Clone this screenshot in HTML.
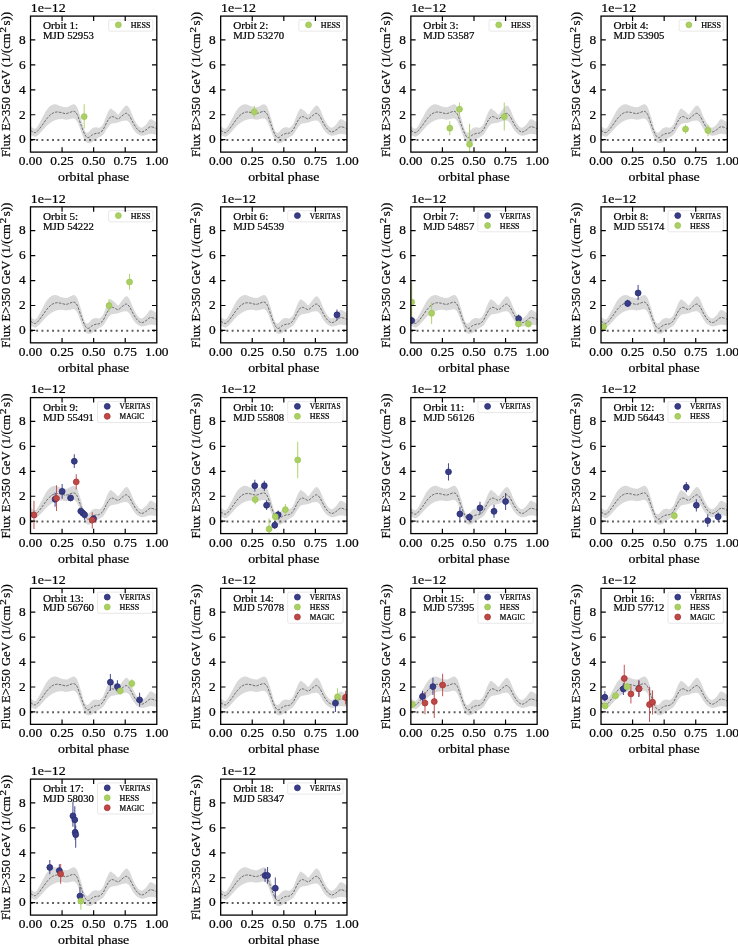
<!DOCTYPE html>
<html><head><meta charset="utf-8"><title>Orbit flux panels</title>
<style>
html,body{margin:0;padding:0;background:#fff;}
svg{display:block;}
text{font-family:"Liberation Serif",serif;fill:#000;stroke:#000;stroke-width:0.22px;}
</style></head><body>
<svg width="738" height="946" viewBox="0 0 738 946">
<rect width="738" height="946" fill="#fff"/>
<g opacity="0.999">
<defs>
<g id="bg">
<path d="M0.00 110.18C0.66 110.58 2.83 112.47 3.97 112.55C5.11 112.63 5.55 112.40 6.82 110.66C8.08 108.92 9.98 104.97 11.56 102.12C13.14 99.27 14.72 95.77 16.30 93.58C17.88 91.40 19.46 89.90 21.04 89.03C22.62 88.16 24.20 88.16 25.79 88.37C27.37 88.57 28.95 89.79 30.53 90.26C32.11 90.74 33.85 91.29 35.27 91.21C36.69 91.13 37.72 90.31 39.06 89.79C40.41 89.27 42.07 87.85 43.33 88.08C44.60 88.32 45.47 88.87 46.65 91.21C47.84 93.55 49.18 98.25 50.45 102.12C51.71 105.99 53.05 112.08 54.24 114.45C55.43 116.82 56.30 116.74 57.56 116.35C58.83 115.95 60.48 112.95 61.83 112.08C63.17 111.21 64.46 111.21 65.62 111.13C66.79 111.05 67.65 112.16 68.82 111.61C69.98 111.05 71.34 110.02 72.61 107.81C73.87 105.60 75.22 100.86 76.40 98.33C77.59 95.80 78.77 93.39 79.72 92.64C80.67 91.88 81.22 93.22 82.09 93.77C82.96 94.33 83.99 95.20 84.94 95.95C85.89 96.71 86.68 98.72 87.79 98.33C88.89 97.93 90.24 95.09 91.58 93.58C92.92 92.08 94.58 89.47 95.85 89.32C97.11 89.16 97.98 90.58 99.17 92.64C100.35 94.69 101.70 99.04 102.96 101.65C104.23 104.25 105.41 106.63 106.76 108.29C108.10 109.95 109.60 111.53 111.02 111.61C112.45 111.68 113.79 110.18 115.29 108.76C116.79 107.34 118.20 103.46 120.03 103.07C121.87 102.67 125.26 105.84 126.30 106.39L126.30 118.72C125.26 118.56 121.87 117.72 120.03 117.77C118.20 117.82 116.79 118.69 115.29 119.00C113.79 119.32 112.45 119.87 111.02 119.67C109.60 119.46 108.10 118.80 106.76 117.77C105.41 116.74 104.23 115.32 102.96 113.50C101.70 111.68 100.35 108.36 99.17 106.86C97.98 105.36 97.11 104.81 95.85 104.49C94.58 104.18 92.92 104.65 91.58 104.97C90.24 105.28 88.89 106.07 87.79 106.39C86.68 106.70 85.89 106.70 84.94 106.86C83.99 107.02 82.96 107.10 82.09 107.34C81.22 107.57 80.67 107.42 79.72 108.29C78.77 109.15 77.59 110.81 76.40 112.55C75.22 114.29 73.87 117.30 72.61 118.72C71.34 120.14 69.98 120.38 68.82 121.09C67.65 121.80 66.79 122.20 65.62 122.99C64.46 123.78 63.17 125.17 61.83 125.83C60.48 126.50 58.83 127.29 57.56 126.97C56.30 126.65 55.43 125.94 54.24 123.94C53.05 121.93 51.71 118.01 50.45 114.93C49.18 111.84 47.84 107.53 46.65 105.44C45.47 103.35 44.60 102.80 43.33 102.40C42.07 102.01 40.41 102.88 39.06 103.07C37.72 103.26 36.69 103.57 35.27 103.54C33.85 103.51 32.11 102.88 30.53 102.88C28.95 102.88 27.37 103.04 25.79 103.54C24.20 104.05 22.62 104.89 21.04 105.91C19.46 106.94 17.88 108.21 16.30 109.71C14.72 111.21 13.14 113.27 11.56 114.93C9.98 116.58 8.08 118.72 6.82 119.67C5.55 120.62 5.11 120.77 3.97 120.62C2.83 120.46 0.66 119.04 0.00 118.72Z" fill="#d9d9d9"/>
<path d="M0.00 114.26C0.66 114.64 2.83 116.38 3.97 116.54C5.11 116.70 5.55 116.43 6.82 115.21C8.08 113.99 9.98 111.34 11.56 109.23C13.14 107.13 14.72 104.49 16.30 102.59C17.88 100.70 19.46 98.96 21.04 97.85C22.62 96.75 24.20 96.19 25.79 95.95C27.37 95.72 28.95 96.16 30.53 96.43C32.11 96.70 33.85 97.57 35.27 97.57C36.69 97.57 37.72 96.81 39.06 96.43C40.41 96.05 42.07 94.97 43.33 95.29C44.60 95.61 45.47 96.08 46.65 98.33C47.84 100.57 49.18 105.44 50.45 108.76C51.71 112.08 53.05 116.11 54.24 118.24C55.43 120.38 56.30 121.49 57.56 121.56C58.83 121.64 60.48 119.43 61.83 118.72C63.17 118.01 64.46 117.61 65.62 117.30C66.79 116.98 67.65 117.45 68.82 116.82C69.98 116.19 71.34 115.32 72.61 113.50C73.87 111.68 75.22 107.97 76.40 105.91C77.59 103.86 78.77 102.07 79.72 101.17C80.67 100.27 81.22 100.43 82.09 100.51C82.96 100.59 83.99 101.27 84.94 101.65C85.89 102.03 86.68 103.10 87.79 102.78C88.89 102.47 90.24 100.68 91.58 99.75C92.92 98.82 94.58 97.11 95.85 97.19C97.11 97.27 97.98 98.53 99.17 100.22C100.35 101.91 101.70 105.20 102.96 107.34C104.23 109.47 105.41 111.61 106.76 113.03C108.10 114.45 109.60 115.72 111.02 115.87C112.45 116.03 113.79 114.85 115.29 113.98C116.79 113.11 118.20 110.89 120.03 110.66C121.87 110.42 125.26 112.24 126.30 112.55" fill="none" stroke="#4a4a4a" stroke-width="0.75" stroke-dasharray="2.6 1.2"/>
<path d="M0 123.80H126.30" stroke="#5c5c5c" stroke-width="2" stroke-dasharray="1.9 3.4" stroke-dashoffset="-0.4" fill="none"/>
</g>
<g id="fr">
<rect x="0" y="0" width="126.30" height="136.00" fill="none" stroke="#000" stroke-width="1.3"/>
<path d="M31.57 0v4.8M31.57 136.00v-4.8M63.15 0v4.8M63.15 136.00v-4.8M94.72 0v4.8M94.72 136.00v-4.8M0 123.60h4.8M126.30 123.60h-4.8M0 98.66h4.8M126.30 98.66h-4.8M0 73.72h4.8M126.30 73.72h-4.8M0 48.78h4.8M126.30 48.78h-4.8M0 23.84h4.8M126.30 23.84h-4.8" stroke="#000" stroke-width="1.2" fill="none"/>
<text x="0.30" y="-4.15" font-size="11.90" text-anchor="start" textLength="35.05" lengthAdjust="spacingAndGlyphs">1e−12</text>
<text x="-4.90" y="127.35" font-size="11.90" text-anchor="end" textLength="6.68" lengthAdjust="spacingAndGlyphs">0</text>
<text x="-4.90" y="102.41" font-size="11.90" text-anchor="end" textLength="6.68" lengthAdjust="spacingAndGlyphs">2</text>
<text x="-4.90" y="77.47" font-size="11.90" text-anchor="end" textLength="6.68" lengthAdjust="spacingAndGlyphs">4</text>
<text x="-4.90" y="52.53" font-size="11.90" text-anchor="end" textLength="6.68" lengthAdjust="spacingAndGlyphs">6</text>
<text x="-4.90" y="27.59" font-size="11.90" text-anchor="end" textLength="6.68" lengthAdjust="spacingAndGlyphs">8</text>
<text x="0.00" y="149.00" font-size="11.90" text-anchor="middle" textLength="23.38" lengthAdjust="spacingAndGlyphs">0.00</text>
<text x="31.57" y="149.00" font-size="11.90" text-anchor="middle" textLength="23.38" lengthAdjust="spacingAndGlyphs">0.25</text>
<text x="63.15" y="149.00" font-size="11.90" text-anchor="middle" textLength="23.38" lengthAdjust="spacingAndGlyphs">0.50</text>
<text x="94.72" y="149.00" font-size="11.90" text-anchor="middle" textLength="23.38" lengthAdjust="spacingAndGlyphs">0.75</text>
<text x="126.30" y="149.00" font-size="11.90" text-anchor="middle" textLength="23.38" lengthAdjust="spacingAndGlyphs">1.00</text>
<text x="63.15" y="165.00" font-size="11.90" text-anchor="middle" textLength="71.27" lengthAdjust="spacingAndGlyphs">orbital phase</text>
<g transform="translate(-20.7 141.00) rotate(-90)">
<text x="0" y="0" font-size="11.90" textLength="123.7" lengthAdjust="spacingAndGlyphs">Flux E&gt;350 GeV (1/(cm</text>
<text x="124.6" y="-4.0" font-size="8.33" textLength="5.6" lengthAdjust="spacingAndGlyphs">2</text>
<text x="131.6" y="0" font-size="11.90" textLength="13.6" lengthAdjust="spacingAndGlyphs">s))</text>
</g>
</g>
</defs>
<g transform="translate(30.50 16.10)">
<clipPath id="c1"><rect x="0" y="0" width="126.30" height="136.00"/></clipPath>
<g clip-path="url(#c1)">
<use href="#bg"/>
<path d="M53.69 88.18V112.46" stroke="#aacf64" stroke-width="1.05" stroke-opacity="0.9" fill="none"/>
<g fill="#aacf64" stroke="#9dc750" stroke-width="0.8"><circle cx="53.69" cy="100.51" r="2.95"/></g>
</g>
<text x="12.50" y="13.40" font-size="9.90" text-anchor="start" textLength="35.16" lengthAdjust="spacingAndGlyphs">Orbit 1:</text>
<text x="12.50" y="23.10" font-size="9.90" text-anchor="start" textLength="50.96" lengthAdjust="spacingAndGlyphs">MJD 52953</text>
<rect x="78.16" y="3.8" width="44.24" height="11.20" rx="1.6" fill="#fff" fill-opacity="0.5" stroke="#ccc" stroke-opacity="0.5" stroke-width="0.9"/>
<circle cx="87.86" cy="8.75" r="2.95" fill="#aacf64" stroke="#9dc750" stroke-width="0.8"/>
<text x="100.16" y="11.85" font-size="7.40" text-anchor="start" textLength="19.74" lengthAdjust="spacingAndGlyphs">HESS</text>
<use href="#fr"/>
</g>
<g transform="translate(220.67 16.10)">
<clipPath id="c2"><rect x="0" y="0" width="126.30" height="136.00"/></clipPath>
<g clip-path="url(#c2)">
<use href="#bg"/>
<path d="M33.60 89.70V101.08" stroke="#aacf64" stroke-width="1.05" stroke-opacity="0.9" fill="none"/>
<g fill="#aacf64" stroke="#9dc750" stroke-width="0.8"><circle cx="33.60" cy="95.77" r="2.95"/></g>
</g>
<text x="12.50" y="13.40" font-size="9.90" text-anchor="start" textLength="35.16" lengthAdjust="spacingAndGlyphs">Orbit 2:</text>
<text x="12.50" y="23.10" font-size="9.90" text-anchor="start" textLength="50.96" lengthAdjust="spacingAndGlyphs">MJD 53270</text>
<rect x="78.16" y="3.8" width="44.24" height="11.20" rx="1.6" fill="#fff" fill-opacity="0.5" stroke="#ccc" stroke-opacity="0.5" stroke-width="0.9"/>
<circle cx="87.86" cy="8.75" r="2.95" fill="#aacf64" stroke="#9dc750" stroke-width="0.8"/>
<text x="100.16" y="11.85" font-size="7.40" text-anchor="start" textLength="19.74" lengthAdjust="spacingAndGlyphs">HESS</text>
<use href="#fr"/>
</g>
<g transform="translate(410.84 16.10)">
<clipPath id="c3"><rect x="0" y="0" width="126.30" height="136.00"/></clipPath>
<g clip-path="url(#c3)">
<use href="#bg"/>
<path d="M38.98 105.26V119.10M48.66 86.28V100.13M58.71 107.72V136.18M93.43 86.28V114.36" stroke="#aacf64" stroke-width="1.05" stroke-opacity="0.9" fill="none"/>
<g fill="#aacf64" stroke="#9dc750" stroke-width="0.8"><circle cx="38.98" cy="112.08" r="2.95"/><circle cx="48.66" cy="93.11" r="2.95"/><circle cx="58.71" cy="128.21" r="2.95"/><circle cx="93.43" cy="100.51" r="2.95"/></g>
</g>
<text x="12.50" y="13.40" font-size="9.90" text-anchor="start" textLength="35.16" lengthAdjust="spacingAndGlyphs">Orbit 3:</text>
<text x="12.50" y="23.10" font-size="9.90" text-anchor="start" textLength="50.96" lengthAdjust="spacingAndGlyphs">MJD 53587</text>
<rect x="78.16" y="3.8" width="44.24" height="11.20" rx="1.6" fill="#fff" fill-opacity="0.5" stroke="#ccc" stroke-opacity="0.5" stroke-width="0.9"/>
<circle cx="87.86" cy="8.75" r="2.95" fill="#aacf64" stroke="#9dc750" stroke-width="0.8"/>
<text x="100.16" y="11.85" font-size="7.40" text-anchor="start" textLength="19.74" lengthAdjust="spacingAndGlyphs">HESS</text>
<use href="#fr"/>
</g>
<g transform="translate(601.01 16.10)">
<clipPath id="c4"><rect x="0" y="0" width="126.30" height="136.00"/></clipPath>
<g clip-path="url(#c4)">
<use href="#bg"/>
<path d="M84.53 108.67V117.59M106.91 108.67V120.05" stroke="#aacf64" stroke-width="1.05" stroke-opacity="0.9" fill="none"/>
<g fill="#aacf64" stroke="#9dc750" stroke-width="0.8"><circle cx="84.53" cy="113.03" r="2.95"/><circle cx="106.91" cy="114.36" r="2.95"/></g>
</g>
<text x="12.50" y="13.40" font-size="9.90" text-anchor="start" textLength="35.16" lengthAdjust="spacingAndGlyphs">Orbit 4:</text>
<text x="12.50" y="23.10" font-size="9.90" text-anchor="start" textLength="50.96" lengthAdjust="spacingAndGlyphs">MJD 53905</text>
<rect x="78.16" y="3.8" width="44.24" height="11.20" rx="1.6" fill="#fff" fill-opacity="0.5" stroke="#ccc" stroke-opacity="0.5" stroke-width="0.9"/>
<circle cx="87.86" cy="8.75" r="2.95" fill="#aacf64" stroke="#9dc750" stroke-width="0.8"/>
<text x="100.16" y="11.85" font-size="7.40" text-anchor="start" textLength="19.74" lengthAdjust="spacingAndGlyphs">HESS</text>
<use href="#fr"/>
</g>
<g transform="translate(30.50 206.85)">
<clipPath id="c5"><rect x="0" y="0" width="126.30" height="136.00"/></clipPath>
<g clip-path="url(#c5)">
<use href="#bg"/>
<path d="M78.54 92.23V104.75M99.03 66.81V82.93" stroke="#aacf64" stroke-width="1.05" stroke-opacity="0.9" fill="none"/>
<g fill="#aacf64" stroke="#9dc750" stroke-width="0.8"><circle cx="78.54" cy="98.68" r="2.95"/><circle cx="99.03" cy="75.15" r="2.95"/></g>
</g>
<text x="12.50" y="13.40" font-size="9.90" text-anchor="start" textLength="35.16" lengthAdjust="spacingAndGlyphs">Orbit 5:</text>
<text x="12.50" y="23.10" font-size="9.90" text-anchor="start" textLength="50.96" lengthAdjust="spacingAndGlyphs">MJD 54222</text>
<rect x="78.16" y="3.8" width="44.24" height="11.20" rx="1.6" fill="#fff" fill-opacity="0.5" stroke="#ccc" stroke-opacity="0.5" stroke-width="0.9"/>
<circle cx="87.86" cy="8.75" r="2.95" fill="#aacf64" stroke="#9dc750" stroke-width="0.8"/>
<text x="100.16" y="11.85" font-size="7.40" text-anchor="start" textLength="19.74" lengthAdjust="spacingAndGlyphs">HESS</text>
<use href="#fr"/>
</g>
<g transform="translate(220.67 206.85)">
<clipPath id="c6"><rect x="0" y="0" width="126.30" height="136.00"/></clipPath>
<g clip-path="url(#c6)">
<use href="#bg"/>
<path d="M116.31 102.66V113.28" stroke="#393d84" stroke-width="1.05" stroke-opacity="0.9" fill="none"/>
<g fill="#393d84" stroke="#272b7a" stroke-width="0.8"><circle cx="116.31" cy="107.97" r="2.95"/></g>
</g>
<text x="12.50" y="13.40" font-size="9.90" text-anchor="start" textLength="35.16" lengthAdjust="spacingAndGlyphs">Orbit 6:</text>
<text x="12.50" y="23.10" font-size="9.90" text-anchor="start" textLength="50.96" lengthAdjust="spacingAndGlyphs">MJD 54539</text>
<rect x="67.04" y="3.8" width="55.36" height="11.20" rx="1.6" fill="#fff" fill-opacity="0.5" stroke="#ccc" stroke-opacity="0.5" stroke-width="0.9"/>
<circle cx="76.74" cy="8.75" r="2.95" fill="#393d84" stroke="#272b7a" stroke-width="0.8"/>
<text x="89.04" y="11.85" font-size="7.40" text-anchor="start" textLength="30.86" lengthAdjust="spacingAndGlyphs">VERITAS</text>
<use href="#fr"/>
</g>
<g transform="translate(410.84 206.85)">
<clipPath id="c7"><rect x="0" y="0" width="126.30" height="136.00"/></clipPath>
<g clip-path="url(#c7)">
<use href="#bg"/>
<path d="M0.85 109.87V117.46M107.84 107.59V115.94" stroke="#393d84" stroke-width="1.05" stroke-opacity="0.9" fill="none"/>
<path d="M0.85 75.72V115.56M20.77 95.64V117.08M107.65 112.71V121.63M117.52 113.66V120.49" stroke="#aacf64" stroke-width="1.05" stroke-opacity="0.9" fill="none"/>
<g fill="#393d84" stroke="#272b7a" stroke-width="0.8"><circle cx="0.85" cy="113.66" r="2.95"/><circle cx="107.84" cy="111.77" r="2.95"/></g>
<g fill="#aacf64" stroke="#9dc750" stroke-width="0.8"><circle cx="0.85" cy="95.26" r="2.95"/><circle cx="20.77" cy="106.45" r="2.95"/><circle cx="107.65" cy="117.08" r="2.95"/><circle cx="117.52" cy="117.08" r="2.95"/></g>
</g>
<text x="12.50" y="13.40" font-size="9.90" text-anchor="start" textLength="35.16" lengthAdjust="spacingAndGlyphs">Orbit 7:</text>
<text x="12.50" y="23.10" font-size="9.90" text-anchor="start" textLength="50.96" lengthAdjust="spacingAndGlyphs">MJD 54857</text>
<rect x="67.04" y="3.8" width="55.36" height="21.15" rx="1.6" fill="#fff" fill-opacity="0.5" stroke="#ccc" stroke-opacity="0.5" stroke-width="0.9"/>
<circle cx="76.74" cy="8.75" r="2.95" fill="#393d84" stroke="#272b7a" stroke-width="0.8"/>
<text x="89.04" y="11.85" font-size="7.40" text-anchor="start" textLength="30.86" lengthAdjust="spacingAndGlyphs">VERITAS</text>
<circle cx="76.74" cy="18.70" r="2.95" fill="#aacf64" stroke="#9dc750" stroke-width="0.8"/>
<text x="89.04" y="21.80" font-size="7.40" text-anchor="start" textLength="19.74" lengthAdjust="spacingAndGlyphs">HESS</text>
<use href="#fr"/>
</g>
<g transform="translate(601.01 206.85)">
<clipPath id="c8"><rect x="0" y="0" width="126.30" height="136.00"/></clipPath>
<g clip-path="url(#c8)">
<use href="#bg"/>
<path d="M26.67 92.79V100.00M37.10 78.19V93.17" stroke="#393d84" stroke-width="1.05" stroke-opacity="0.9" fill="none"/>
<path d="M2.58 116.51V123.53" stroke="#aacf64" stroke-width="1.05" stroke-opacity="0.9" fill="none"/>
<g fill="#393d84" stroke="#272b7a" stroke-width="0.8"><circle cx="26.67" cy="96.59" r="2.95"/><circle cx="37.10" cy="86.16" r="2.95"/></g>
<g fill="#aacf64" stroke="#9dc750" stroke-width="0.8"><circle cx="2.58" cy="119.92" r="2.95"/></g>
</g>
<text x="12.50" y="13.40" font-size="9.90" text-anchor="start" textLength="35.16" lengthAdjust="spacingAndGlyphs">Orbit 8:</text>
<text x="12.50" y="23.10" font-size="9.90" text-anchor="start" textLength="50.96" lengthAdjust="spacingAndGlyphs">MJD 55174</text>
<rect x="67.04" y="3.8" width="55.36" height="21.15" rx="1.6" fill="#fff" fill-opacity="0.5" stroke="#ccc" stroke-opacity="0.5" stroke-width="0.9"/>
<circle cx="76.74" cy="8.75" r="2.95" fill="#393d84" stroke="#272b7a" stroke-width="0.8"/>
<text x="89.04" y="11.85" font-size="7.40" text-anchor="start" textLength="30.86" lengthAdjust="spacingAndGlyphs">VERITAS</text>
<circle cx="76.74" cy="18.70" r="2.95" fill="#aacf64" stroke="#9dc750" stroke-width="0.8"/>
<text x="89.04" y="21.80" font-size="7.40" text-anchor="start" textLength="19.74" lengthAdjust="spacingAndGlyphs">HESS</text>
<use href="#fr"/>
</g>
<g transform="translate(30.50 397.60)">
<clipPath id="c9"><rect x="0" y="0" width="126.30" height="136.00"/></clipPath>
<g clip-path="url(#c9)">
<use href="#bg"/>
<path d="M24.60 95.10V109.19M31.65 86.42V101.06M40.10 97.81V103.77M43.79 56.61V70.38M50.29 110.81V116.23M52.24 112.98V117.86M54.09 114.07V122.20M63.08 117.86V124.36" stroke="#393d84" stroke-width="1.05" stroke-opacity="0.9" fill="none"/>
<path d="M3.46 103.23V131.41M26.01 87.73V113.52M45.74 76.67V91.84M61.78 114.61V130.87" stroke="#bb4947" stroke-width="1.05" stroke-opacity="0.9" fill="none"/>
<g fill="#393d84" stroke="#272b7a" stroke-width="0.8"><circle cx="24.60" cy="101.60" r="2.95"/><circle cx="31.65" cy="93.80" r="2.95"/><circle cx="40.10" cy="100.30" r="2.95"/><circle cx="43.79" cy="63.66" r="2.95"/><circle cx="50.29" cy="113.52" r="2.95"/><circle cx="52.24" cy="115.37" r="2.95"/><circle cx="54.09" cy="117.10" r="2.95"/><circle cx="63.08" cy="121.11" r="2.95"/></g>
<g fill="#bb4947" stroke="#b13232" stroke-width="0.8"><circle cx="3.46" cy="117.32" r="2.95"/><circle cx="26.01" cy="100.73" r="2.95"/><circle cx="45.74" cy="84.26" r="2.95"/><circle cx="61.78" cy="122.41" r="2.95"/></g>
</g>
<text x="12.50" y="13.40" font-size="9.90" text-anchor="start" textLength="35.16" lengthAdjust="spacingAndGlyphs">Orbit 9:</text>
<text x="12.50" y="23.10" font-size="9.90" text-anchor="start" textLength="50.96" lengthAdjust="spacingAndGlyphs">MJD 55491</text>
<rect x="67.04" y="3.8" width="55.36" height="21.15" rx="1.6" fill="#fff" fill-opacity="0.5" stroke="#ccc" stroke-opacity="0.5" stroke-width="0.9"/>
<circle cx="76.74" cy="8.75" r="2.95" fill="#393d84" stroke="#272b7a" stroke-width="0.8"/>
<text x="89.04" y="11.85" font-size="7.40" text-anchor="start" textLength="30.86" lengthAdjust="spacingAndGlyphs">VERITAS</text>
<circle cx="76.74" cy="18.70" r="2.95" fill="#bb4947" stroke="#b13232" stroke-width="0.8"/>
<text x="89.04" y="21.80" font-size="7.40" text-anchor="start" textLength="24.75" lengthAdjust="spacingAndGlyphs">MAGIC</text>
<use href="#fr"/>
</g>
<g transform="translate(220.67 397.60)">
<clipPath id="c10"><rect x="0" y="0" width="126.30" height="136.00"/></clipPath>
<g clip-path="url(#c10)">
<use href="#bg"/>
<path d="M34.17 82.04V93.99M43.65 83.18V93.42M45.93 102.53V112.39M57.50 112.96V121.12M54.09 123.40V131.36" stroke="#393d84" stroke-width="1.05" stroke-opacity="0.9" fill="none"/>
<path d="M34.55 97.79V106.70M48.40 120.55V136.30M54.66 114.86V123.40M64.71 106.32V117.33M77.04 44.10V80.71" stroke="#aacf64" stroke-width="1.05" stroke-opacity="0.9" fill="none"/>
<g fill="#393d84" stroke="#272b7a" stroke-width="0.8"><circle cx="34.17" cy="88.11" r="2.95"/><circle cx="43.65" cy="88.11" r="2.95"/><circle cx="45.93" cy="107.65" r="2.95"/><circle cx="57.50" cy="117.14" r="2.95"/><circle cx="54.09" cy="127.57" r="2.95"/></g>
<g fill="#aacf64" stroke="#9dc750" stroke-width="0.8"><circle cx="34.55" cy="101.96" r="2.95"/><circle cx="48.40" cy="131.36" r="2.95"/><circle cx="54.66" cy="119.03" r="2.95"/><circle cx="64.71" cy="112.02" r="2.95"/><circle cx="77.04" cy="62.31" r="2.95"/></g>
</g>
<text x="12.50" y="13.40" font-size="9.90" text-anchor="start" textLength="40.82" lengthAdjust="spacingAndGlyphs">Orbit 10:</text>
<text x="12.50" y="23.10" font-size="9.90" text-anchor="start" textLength="50.96" lengthAdjust="spacingAndGlyphs">MJD 55808</text>
<rect x="67.04" y="3.8" width="55.36" height="21.15" rx="1.6" fill="#fff" fill-opacity="0.5" stroke="#ccc" stroke-opacity="0.5" stroke-width="0.9"/>
<circle cx="76.74" cy="8.75" r="2.95" fill="#393d84" stroke="#272b7a" stroke-width="0.8"/>
<text x="89.04" y="11.85" font-size="7.40" text-anchor="start" textLength="30.86" lengthAdjust="spacingAndGlyphs">VERITAS</text>
<circle cx="76.74" cy="18.70" r="2.95" fill="#aacf64" stroke="#9dc750" stroke-width="0.8"/>
<text x="89.04" y="21.80" font-size="7.40" text-anchor="start" textLength="19.74" lengthAdjust="spacingAndGlyphs">HESS</text>
<use href="#fr"/>
</g>
<g transform="translate(410.84 397.60)">
<clipPath id="c11"><rect x="0" y="0" width="126.30" height="136.00"/></clipPath>
<g clip-path="url(#c11)">
<use href="#bg"/>
<path d="M37.65 65.54V82.99M49.04 109.55V123.78M58.52 115.81V123.78M69.14 104.05V116.76M83.18 107.27V120.17M94.75 95.32V112.39" stroke="#393d84" stroke-width="1.05" stroke-opacity="0.9" fill="none"/>
<g fill="#393d84" stroke="#272b7a" stroke-width="0.8"><circle cx="37.65" cy="74.26" r="2.95"/><circle cx="49.04" cy="116.38" r="2.95"/><circle cx="58.52" cy="119.60" r="2.95"/><circle cx="69.14" cy="110.31" r="2.95"/><circle cx="83.18" cy="113.72" r="2.95"/><circle cx="94.75" cy="103.86" r="2.95"/></g>
</g>
<text x="12.50" y="13.40" font-size="9.90" text-anchor="start" textLength="40.82" lengthAdjust="spacingAndGlyphs">Orbit 11:</text>
<text x="12.50" y="23.10" font-size="9.90" text-anchor="start" textLength="50.96" lengthAdjust="spacingAndGlyphs">MJD 56126</text>
<rect x="67.04" y="3.8" width="55.36" height="11.20" rx="1.6" fill="#fff" fill-opacity="0.5" stroke="#ccc" stroke-opacity="0.5" stroke-width="0.9"/>
<circle cx="76.74" cy="8.75" r="2.95" fill="#393d84" stroke="#272b7a" stroke-width="0.8"/>
<text x="89.04" y="11.85" font-size="7.40" text-anchor="start" textLength="30.86" lengthAdjust="spacingAndGlyphs">VERITAS</text>
<use href="#fr"/>
</g>
<g transform="translate(601.01 397.60)">
<clipPath id="c12"><rect x="0" y="0" width="126.30" height="136.00"/></clipPath>
<g clip-path="url(#c12)">
<use href="#bg"/>
<path d="M85.29 84.51V94.56M95.34 101.58V113.91M106.72 116.76V129.09M117.16 114.86V123.78" stroke="#393d84" stroke-width="1.05" stroke-opacity="0.9" fill="none"/>
<path d="M73.34 114.29V121.88" stroke="#aacf64" stroke-width="1.05" stroke-opacity="0.9" fill="none"/>
<g fill="#393d84" stroke="#272b7a" stroke-width="0.8"><circle cx="85.29" cy="89.63" r="2.95"/><circle cx="95.34" cy="107.65" r="2.95"/><circle cx="106.72" cy="123.02" r="2.95"/><circle cx="117.16" cy="119.22" r="2.95"/></g>
<g fill="#aacf64" stroke="#9dc750" stroke-width="0.8"><circle cx="73.34" cy="118.09" r="2.95"/></g>
</g>
<text x="12.50" y="13.40" font-size="9.90" text-anchor="start" textLength="40.82" lengthAdjust="spacingAndGlyphs">Orbit 12:</text>
<text x="12.50" y="23.10" font-size="9.90" text-anchor="start" textLength="50.96" lengthAdjust="spacingAndGlyphs">MJD 56443</text>
<rect x="67.04" y="3.8" width="55.36" height="21.15" rx="1.6" fill="#fff" fill-opacity="0.5" stroke="#ccc" stroke-opacity="0.5" stroke-width="0.9"/>
<circle cx="76.74" cy="8.75" r="2.95" fill="#393d84" stroke="#272b7a" stroke-width="0.8"/>
<text x="89.04" y="11.85" font-size="7.40" text-anchor="start" textLength="30.86" lengthAdjust="spacingAndGlyphs">VERITAS</text>
<circle cx="76.74" cy="18.70" r="2.95" fill="#aacf64" stroke="#9dc750" stroke-width="0.8"/>
<text x="89.04" y="21.80" font-size="7.40" text-anchor="start" textLength="19.74" lengthAdjust="spacingAndGlyphs">HESS</text>
<use href="#fr"/>
</g>
<g transform="translate(30.50 588.35)">
<clipPath id="c13"><rect x="0" y="0" width="126.30" height="136.00"/></clipPath>
<g clip-path="url(#c13)">
<use href="#bg"/>
<path d="M79.87 85.71V102.40M86.88 91.78V103.73M109.08 104.30V118.34" stroke="#393d84" stroke-width="1.05" stroke-opacity="0.9" fill="none"/>
<path d="M89.73 98.99V106.19M101.30 91.02V99.37" stroke="#aacf64" stroke-width="1.05" stroke-opacity="0.9" fill="none"/>
<g fill="#393d84" stroke="#272b7a" stroke-width="0.8"><circle cx="79.87" cy="93.86" r="2.95"/><circle cx="86.88" cy="98.23" r="2.95"/><circle cx="109.08" cy="111.51" r="2.95"/></g>
<g fill="#aacf64" stroke="#9dc750" stroke-width="0.8"><circle cx="89.73" cy="102.59" r="2.95"/><circle cx="101.30" cy="95.19" r="2.95"/></g>
</g>
<text x="12.50" y="13.40" font-size="9.90" text-anchor="start" textLength="40.82" lengthAdjust="spacingAndGlyphs">Orbit 13:</text>
<text x="12.50" y="23.10" font-size="9.90" text-anchor="start" textLength="50.96" lengthAdjust="spacingAndGlyphs">MJD 56760</text>
<rect x="67.04" y="3.8" width="55.36" height="21.15" rx="1.6" fill="#fff" fill-opacity="0.5" stroke="#ccc" stroke-opacity="0.5" stroke-width="0.9"/>
<circle cx="76.74" cy="8.75" r="2.95" fill="#393d84" stroke="#272b7a" stroke-width="0.8"/>
<text x="89.04" y="11.85" font-size="7.40" text-anchor="start" textLength="30.86" lengthAdjust="spacingAndGlyphs">VERITAS</text>
<circle cx="76.74" cy="18.70" r="2.95" fill="#aacf64" stroke="#9dc750" stroke-width="0.8"/>
<text x="89.04" y="21.80" font-size="7.40" text-anchor="start" textLength="19.74" lengthAdjust="spacingAndGlyphs">HESS</text>
<use href="#fr"/>
</g>
<g transform="translate(220.67 588.35)">
<clipPath id="c14"><rect x="0" y="0" width="126.30" height="136.00"/></clipPath>
<g clip-path="url(#c14)">
<use href="#bg"/>
<path d="M114.79 108.47V123.65" stroke="#393d84" stroke-width="1.05" stroke-opacity="0.9" fill="none"/>
<path d="M116.88 99.93V116.06" stroke="#aacf64" stroke-width="1.05" stroke-opacity="0.9" fill="none"/>
<path d="M124.84 102.40V116.06" stroke="#bb4947" stroke-width="1.05" stroke-opacity="0.9" fill="none"/>
<g fill="#393d84" stroke="#272b7a" stroke-width="0.8"><circle cx="114.79" cy="114.73" r="2.95"/></g>
<g fill="#aacf64" stroke="#9dc750" stroke-width="0.8"><circle cx="116.88" cy="108.47" r="2.95"/></g>
<g fill="#bb4947" stroke="#b13232" stroke-width="0.8"><circle cx="124.84" cy="109.04" r="2.95"/></g>
</g>
<text x="12.50" y="13.40" font-size="9.90" text-anchor="start" textLength="40.82" lengthAdjust="spacingAndGlyphs">Orbit 14:</text>
<text x="12.50" y="23.10" font-size="9.90" text-anchor="start" textLength="50.96" lengthAdjust="spacingAndGlyphs">MJD 57078</text>
<rect x="67.04" y="3.8" width="55.36" height="31.10" rx="1.6" fill="#fff" fill-opacity="0.5" stroke="#ccc" stroke-opacity="0.5" stroke-width="0.9"/>
<circle cx="76.74" cy="8.75" r="2.95" fill="#393d84" stroke="#272b7a" stroke-width="0.8"/>
<text x="89.04" y="11.85" font-size="7.40" text-anchor="start" textLength="30.86" lengthAdjust="spacingAndGlyphs">VERITAS</text>
<circle cx="76.74" cy="18.70" r="2.95" fill="#aacf64" stroke="#9dc750" stroke-width="0.8"/>
<text x="89.04" y="21.80" font-size="7.40" text-anchor="start" textLength="19.74" lengthAdjust="spacingAndGlyphs">HESS</text>
<circle cx="76.74" cy="28.65" r="2.95" fill="#bb4947" stroke="#b13232" stroke-width="0.8"/>
<text x="89.04" y="31.75" font-size="7.40" text-anchor="start" textLength="24.75" lengthAdjust="spacingAndGlyphs">MAGIC</text>
<use href="#fr"/>
</g>
<g transform="translate(410.84 588.35)">
<clipPath id="c15"><rect x="0" y="0" width="126.30" height="136.00"/></clipPath>
<g clip-path="url(#c15)">
<use href="#bg"/>
<path d="M11.66 102.40V113.21M22.10 89.50V106.57" stroke="#393d84" stroke-width="1.05" stroke-opacity="0.9" fill="none"/>
<path d="M1.42 113.21V119.85" stroke="#aacf64" stroke-width="1.05" stroke-opacity="0.9" fill="none"/>
<path d="M14.13 103.73V125.92M23.43 97.09V129.72M31.77 85.33V107.90" stroke="#bb4947" stroke-width="1.05" stroke-opacity="0.9" fill="none"/>
<g fill="#393d84" stroke="#272b7a" stroke-width="0.8"><circle cx="11.66" cy="108.09" r="2.95"/><circle cx="22.10" cy="98.23" r="2.95"/></g>
<g fill="#aacf64" stroke="#9dc750" stroke-width="0.8"><circle cx="1.42" cy="116.06" r="2.95"/></g>
<g fill="#bb4947" stroke="#b13232" stroke-width="0.8"><circle cx="14.13" cy="114.73" r="2.95"/><circle cx="23.43" cy="113.21" r="2.95"/><circle cx="31.77" cy="96.71" r="2.95"/></g>
</g>
<text x="12.50" y="13.40" font-size="9.90" text-anchor="start" textLength="40.82" lengthAdjust="spacingAndGlyphs">Orbit 15:</text>
<text x="12.50" y="23.10" font-size="9.90" text-anchor="start" textLength="50.96" lengthAdjust="spacingAndGlyphs">MJD 57395</text>
<rect x="67.04" y="3.8" width="55.36" height="31.10" rx="1.6" fill="#fff" fill-opacity="0.5" stroke="#ccc" stroke-opacity="0.5" stroke-width="0.9"/>
<circle cx="76.74" cy="8.75" r="2.95" fill="#393d84" stroke="#272b7a" stroke-width="0.8"/>
<text x="89.04" y="11.85" font-size="7.40" text-anchor="start" textLength="30.86" lengthAdjust="spacingAndGlyphs">VERITAS</text>
<circle cx="76.74" cy="18.70" r="2.95" fill="#aacf64" stroke="#9dc750" stroke-width="0.8"/>
<text x="89.04" y="21.80" font-size="7.40" text-anchor="start" textLength="19.74" lengthAdjust="spacingAndGlyphs">HESS</text>
<circle cx="76.74" cy="28.65" r="2.95" fill="#bb4947" stroke="#b13232" stroke-width="0.8"/>
<text x="89.04" y="31.75" font-size="7.40" text-anchor="start" textLength="24.75" lengthAdjust="spacingAndGlyphs">MAGIC</text>
<use href="#fr"/>
</g>
<g transform="translate(601.01 588.35)">
<clipPath id="c16"><rect x="0" y="0" width="126.30" height="136.00"/></clipPath>
<g clip-path="url(#c16)">
<use href="#bg"/>
<path d="M3.82 102.91V112.87M22.32 94.85V106.70M37.78 92.00V108.60" stroke="#393d84" stroke-width="1.05" stroke-opacity="0.9" fill="none"/>
<path d="M4.10 114.77V120.93M14.54 104.33V110.50M25.92 94.37V102.44" stroke="#aacf64" stroke-width="1.05" stroke-opacity="0.9" fill="none"/>
<path d="M23.26 76.35V99.59M29.90 97.22V115.24M38.06 92.48V108.13M48.49 98.64V133.74M51.53 101.96V126.15" stroke="#bb4947" stroke-width="1.05" stroke-opacity="0.9" fill="none"/>
<g fill="#393d84" stroke="#272b7a" stroke-width="0.8"><circle cx="3.82" cy="108.89" r="2.95"/><circle cx="22.32" cy="100.54" r="2.95"/><circle cx="37.78" cy="100.35" r="2.95"/></g>
<g fill="#aacf64" stroke="#9dc750" stroke-width="0.8"><circle cx="4.10" cy="117.61" r="2.95"/><circle cx="14.54" cy="107.46" r="2.95"/><circle cx="25.92" cy="98.45" r="2.95"/></g>
<g fill="#bb4947" stroke="#b13232" stroke-width="0.8"><circle cx="23.26" cy="90.11" r="2.95"/><circle cx="29.90" cy="105.57" r="2.95"/><circle cx="38.06" cy="100.35" r="2.95"/><circle cx="48.49" cy="116.19" r="2.95"/><circle cx="51.53" cy="113.82" r="2.95"/></g>
</g>
<text x="12.50" y="13.40" font-size="9.90" text-anchor="start" textLength="40.82" lengthAdjust="spacingAndGlyphs">Orbit 16:</text>
<text x="12.50" y="23.10" font-size="9.90" text-anchor="start" textLength="50.96" lengthAdjust="spacingAndGlyphs">MJD 57712</text>
<rect x="67.04" y="3.8" width="55.36" height="31.10" rx="1.6" fill="#fff" fill-opacity="0.5" stroke="#ccc" stroke-opacity="0.5" stroke-width="0.9"/>
<circle cx="76.74" cy="8.75" r="2.95" fill="#393d84" stroke="#272b7a" stroke-width="0.8"/>
<text x="89.04" y="11.85" font-size="7.40" text-anchor="start" textLength="30.86" lengthAdjust="spacingAndGlyphs">VERITAS</text>
<circle cx="76.74" cy="18.70" r="2.95" fill="#aacf64" stroke="#9dc750" stroke-width="0.8"/>
<text x="89.04" y="21.80" font-size="7.40" text-anchor="start" textLength="19.74" lengthAdjust="spacingAndGlyphs">HESS</text>
<circle cx="76.74" cy="28.65" r="2.95" fill="#bb4947" stroke="#b13232" stroke-width="0.8"/>
<text x="89.04" y="31.75" font-size="7.40" text-anchor="start" textLength="24.75" lengthAdjust="spacingAndGlyphs">MAGIC</text>
<use href="#fr"/>
</g>
<g transform="translate(30.50 779.10)">
<clipPath id="c17"><rect x="0" y="0" width="126.30" height="136.00"/></clipPath>
<g clip-path="url(#c17)">
<use href="#bg"/>
<path d="M19.30 80.91V95.18M28.82 85.27V95.18M42.43 22.51V47.61M44.28 27.13V52.90M44.67 42.33V60.83M45.20 46.29V68.75M49.43 107.73V121.61" stroke="#393d84" stroke-width="1.05" stroke-opacity="0.9" fill="none"/>
<path d="M50.35 117.64V130.59" stroke="#aacf64" stroke-width="1.05" stroke-opacity="0.9" fill="none"/>
<path d="M30.14 84.87V104.69" stroke="#bb4947" stroke-width="1.05" stroke-opacity="0.9" fill="none"/>
<g fill="#393d84" stroke="#272b7a" stroke-width="0.8"><circle cx="19.30" cy="88.31" r="2.95"/><circle cx="28.82" cy="91.48" r="2.95"/><circle cx="42.43" cy="36.78" r="2.95"/><circle cx="44.28" cy="40.74" r="2.95"/><circle cx="44.67" cy="53.16" r="2.95"/><circle cx="45.20" cy="55.54" r="2.95"/><circle cx="49.43" cy="116.98" r="2.95"/></g>
<g fill="#aacf64" stroke="#9dc750" stroke-width="0.8"><circle cx="50.35" cy="122.00" r="2.95"/></g>
<g fill="#bb4947" stroke="#b13232" stroke-width="0.8"><circle cx="30.14" cy="94.78" r="2.95"/></g>
</g>
<text x="12.50" y="13.40" font-size="9.90" text-anchor="start" textLength="40.82" lengthAdjust="spacingAndGlyphs">Orbit 17:</text>
<text x="12.50" y="23.10" font-size="9.90" text-anchor="start" textLength="50.96" lengthAdjust="spacingAndGlyphs">MJD 58030</text>
<rect x="67.04" y="3.8" width="55.36" height="31.10" rx="1.6" fill="#fff" fill-opacity="0.5" stroke="#ccc" stroke-opacity="0.5" stroke-width="0.9"/>
<circle cx="76.74" cy="8.75" r="2.95" fill="#393d84" stroke="#272b7a" stroke-width="0.8"/>
<text x="89.04" y="11.85" font-size="7.40" text-anchor="start" textLength="30.86" lengthAdjust="spacingAndGlyphs">VERITAS</text>
<circle cx="76.74" cy="18.70" r="2.95" fill="#aacf64" stroke="#9dc750" stroke-width="0.8"/>
<text x="89.04" y="21.80" font-size="7.40" text-anchor="start" textLength="19.74" lengthAdjust="spacingAndGlyphs">HESS</text>
<circle cx="76.74" cy="28.65" r="2.95" fill="#bb4947" stroke="#b13232" stroke-width="0.8"/>
<text x="89.04" y="31.75" font-size="7.40" text-anchor="start" textLength="24.75" lengthAdjust="spacingAndGlyphs">MAGIC</text>
<use href="#fr"/>
</g>
<g transform="translate(220.67 779.10)">
<clipPath id="c18"><rect x="0" y="0" width="126.30" height="136.00"/></clipPath>
<g clip-path="url(#c18)">
<use href="#bg"/>
<path d="M44.41 89.75V102.65M46.88 87.85V104.55M54.66 98.29V119.15" stroke="#393d84" stroke-width="1.05" stroke-opacity="0.9" fill="none"/>
<g fill="#393d84" stroke="#272b7a" stroke-width="0.8"><circle cx="44.41" cy="96.39" r="2.95"/><circle cx="46.88" cy="96.39" r="2.95"/><circle cx="54.66" cy="109.10" r="2.95"/></g>
</g>
<text x="12.50" y="13.40" font-size="9.90" text-anchor="start" textLength="40.82" lengthAdjust="spacingAndGlyphs">Orbit 18:</text>
<text x="12.50" y="23.10" font-size="9.90" text-anchor="start" textLength="50.96" lengthAdjust="spacingAndGlyphs">MJD 58347</text>
<rect x="67.04" y="3.8" width="55.36" height="11.20" rx="1.6" fill="#fff" fill-opacity="0.5" stroke="#ccc" stroke-opacity="0.5" stroke-width="0.9"/>
<circle cx="76.74" cy="8.75" r="2.95" fill="#393d84" stroke="#272b7a" stroke-width="0.8"/>
<text x="89.04" y="11.85" font-size="7.40" text-anchor="start" textLength="30.86" lengthAdjust="spacingAndGlyphs">VERITAS</text>
<use href="#fr"/>
</g>
</g>
</svg>
</body></html>
